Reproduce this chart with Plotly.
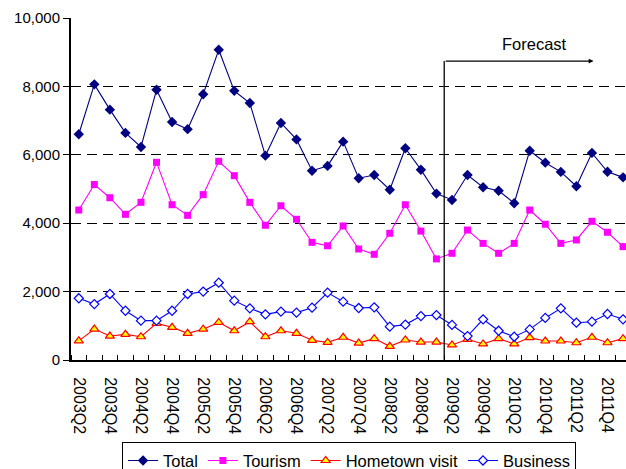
import plotly.graph_objects as go

# Quarterly periods, 2003Q2 through 2012Q1
quarters = [f"{y}Q{q}" for y in range(2003, 2013) for q in range(1, 5)]
quarters = quarters[quarters.index("2003Q2"):quarters.index("2012Q1") + 1]

total = [6600, 8060, 7320, 6640, 6230, 7900, 6960, 6750, 7770, 9070, 7870, 7515,
         5975, 6930, 6450, 5535, 5675, 6385, 5315, 5410, 4980, 6190, 5565, 4865,
         4680, 5410, 5050, 4950, 4585, 6120, 5770, 5500, 5080, 6055, 5505, 5340]
tourism = [4385, 5130, 4745, 4260, 4610, 5780, 4540, 4230, 4835, 5810, 5390, 4610,
           3940, 4510, 4115, 3440, 3340, 3920, 3245, 3090, 3705, 4540, 3770, 2955,
           3120, 3800, 3410, 3120, 3410, 4385, 3970, 3410, 3510, 4055, 3735, 3315]
hometown = [560, 905, 700, 750, 680, 1070, 955, 780, 900, 1100, 855, 1120,
            680, 855, 780, 575, 515, 665, 495, 625, 400, 585, 525, 525,
            440, 605, 470, 625, 470, 655, 555, 555, 505, 665, 505, 625]
business = [1805, 1635, 1930, 1440, 1150, 1150, 1440, 1930, 2000, 2260, 1735, 1510,
            1335, 1415, 1385, 1530, 1970, 1705, 1520, 1540, 975, 1035, 1285, 1315,
            1025, 700, 1190, 855, 680, 895, 1230, 1510, 1090, 1120, 1345, 1190]

# Forecast marker: boundary between last actual and first forecast quarter
forecast_start = quarters.index("2009Q2") - 0.5
forecast_level = 8740
forecast_arrow_end = 33.1

x = list(range(len(quarters)))
label_idx = x[::2]

fig = go.Figure()

fig.add_trace(go.Scatter(
    x=x, y=total, name="Total", mode="lines+markers",
    line=dict(color="#000080", width=1.1),
    marker=dict(symbol="diamond", size=8, color="#000080"),
))
fig.add_trace(go.Scatter(
    x=x, y=tourism, name="Tourism", mode="lines+markers",
    line=dict(color="#FF00FF", width=1.1),
    marker=dict(symbol="square", size=7, color="#FF00FF"),
))
fig.add_trace(go.Scatter(
    x=x, y=hometown, name="Hometown visit", mode="lines+markers",
    line=dict(color="#FF0000", width=1.1),
    marker=dict(symbol="triangle-up", size=8, color="#FFFF00",
                line=dict(color="#FF0000", width=1.2)),
))
fig.add_trace(go.Scatter(
    x=x, y=business, name="Business", mode="lines+markers",
    line=dict(color="#0000FF", width=1.1),
    marker=dict(symbol="diamond", size=7, color="#FFFFFF",
                line=dict(color="#0000FF", width=1.2)),
))

# Forecast divider and arrow
fig.add_shape(type="line", xref="x", yref="y",
              x0=forecast_start, x1=forecast_start, y0=0, y1=forecast_level,
              line=dict(color="#000000", width=1.3))
fig.add_annotation(x=forecast_arrow_end, y=forecast_level, ax=forecast_start,
                   ay=forecast_level, axref="x", ayref="y", xref="x", yref="y",
                   text="", showarrow=True, arrowhead=2, arrowsize=0.8,
                   arrowwidth=1.2, arrowcolor="#000000")
fig.add_annotation(x=29.3, y=9240, xref="x", yref="y", text="Forecast",
                   showarrow=False, font=dict(size=16.5, color="#000000"))

fig.update_layout(
    width=626, height=469,
    margin=dict(l=71, r=0, t=18, b=109),
    paper_bgcolor="#FFFFFF", plot_bgcolor="#FFFFFF",
    font=dict(family="Liberation Sans, Arial, sans-serif", size=15, color="#000000"),
    showlegend=True,
    legend=dict(orientation="h", x=0.501, xanchor="center",
                yref="container", y=0.057, yanchor="top",
                bordercolor="#000000", borderwidth=1, font=dict(size=16.5),
                itemwidth=30, tracegroupgap=0, bgcolor="#FFFFFF"),
)

fig.update_xaxes(
    range=[-0.5, 35.19],
    tickmode="array", tickvals=label_idx, ticktext=[quarters[i] for i in label_idx],
    tickangle=90, ticks="", ticklabelstandoff=12,
    tickfont=dict(size=16),
    showline=True, linecolor="#000000", linewidth=2,
    showgrid=False, zeroline=False,
    minor=dict(tickmode="array", tickvals=[i - 0.5 for i in x] + [x[-1] + 0.5],
               ticks="inside", ticklen=5, tickcolor="#000000", tickwidth=1,
               showgrid=False),
)
fig.update_yaxes(
    range=[0, 10000], tickmode="array",
    tickvals=[0, 2000, 4000, 6000, 8000, 10000],
    ticktext=["0", "2,000", "4,000", "6,000", "8,000", "10,000"],
    ticks="outside", ticklen=6, tickcolor="#000000",
    showline=True, linecolor="#000000", linewidth=2,
    showgrid=True, gridcolor="#000000", gridwidth=1.3, griddash="10px,6px",
    zeroline=False, tickfont=dict(size=15),
)

fig.write_html("out.html")
